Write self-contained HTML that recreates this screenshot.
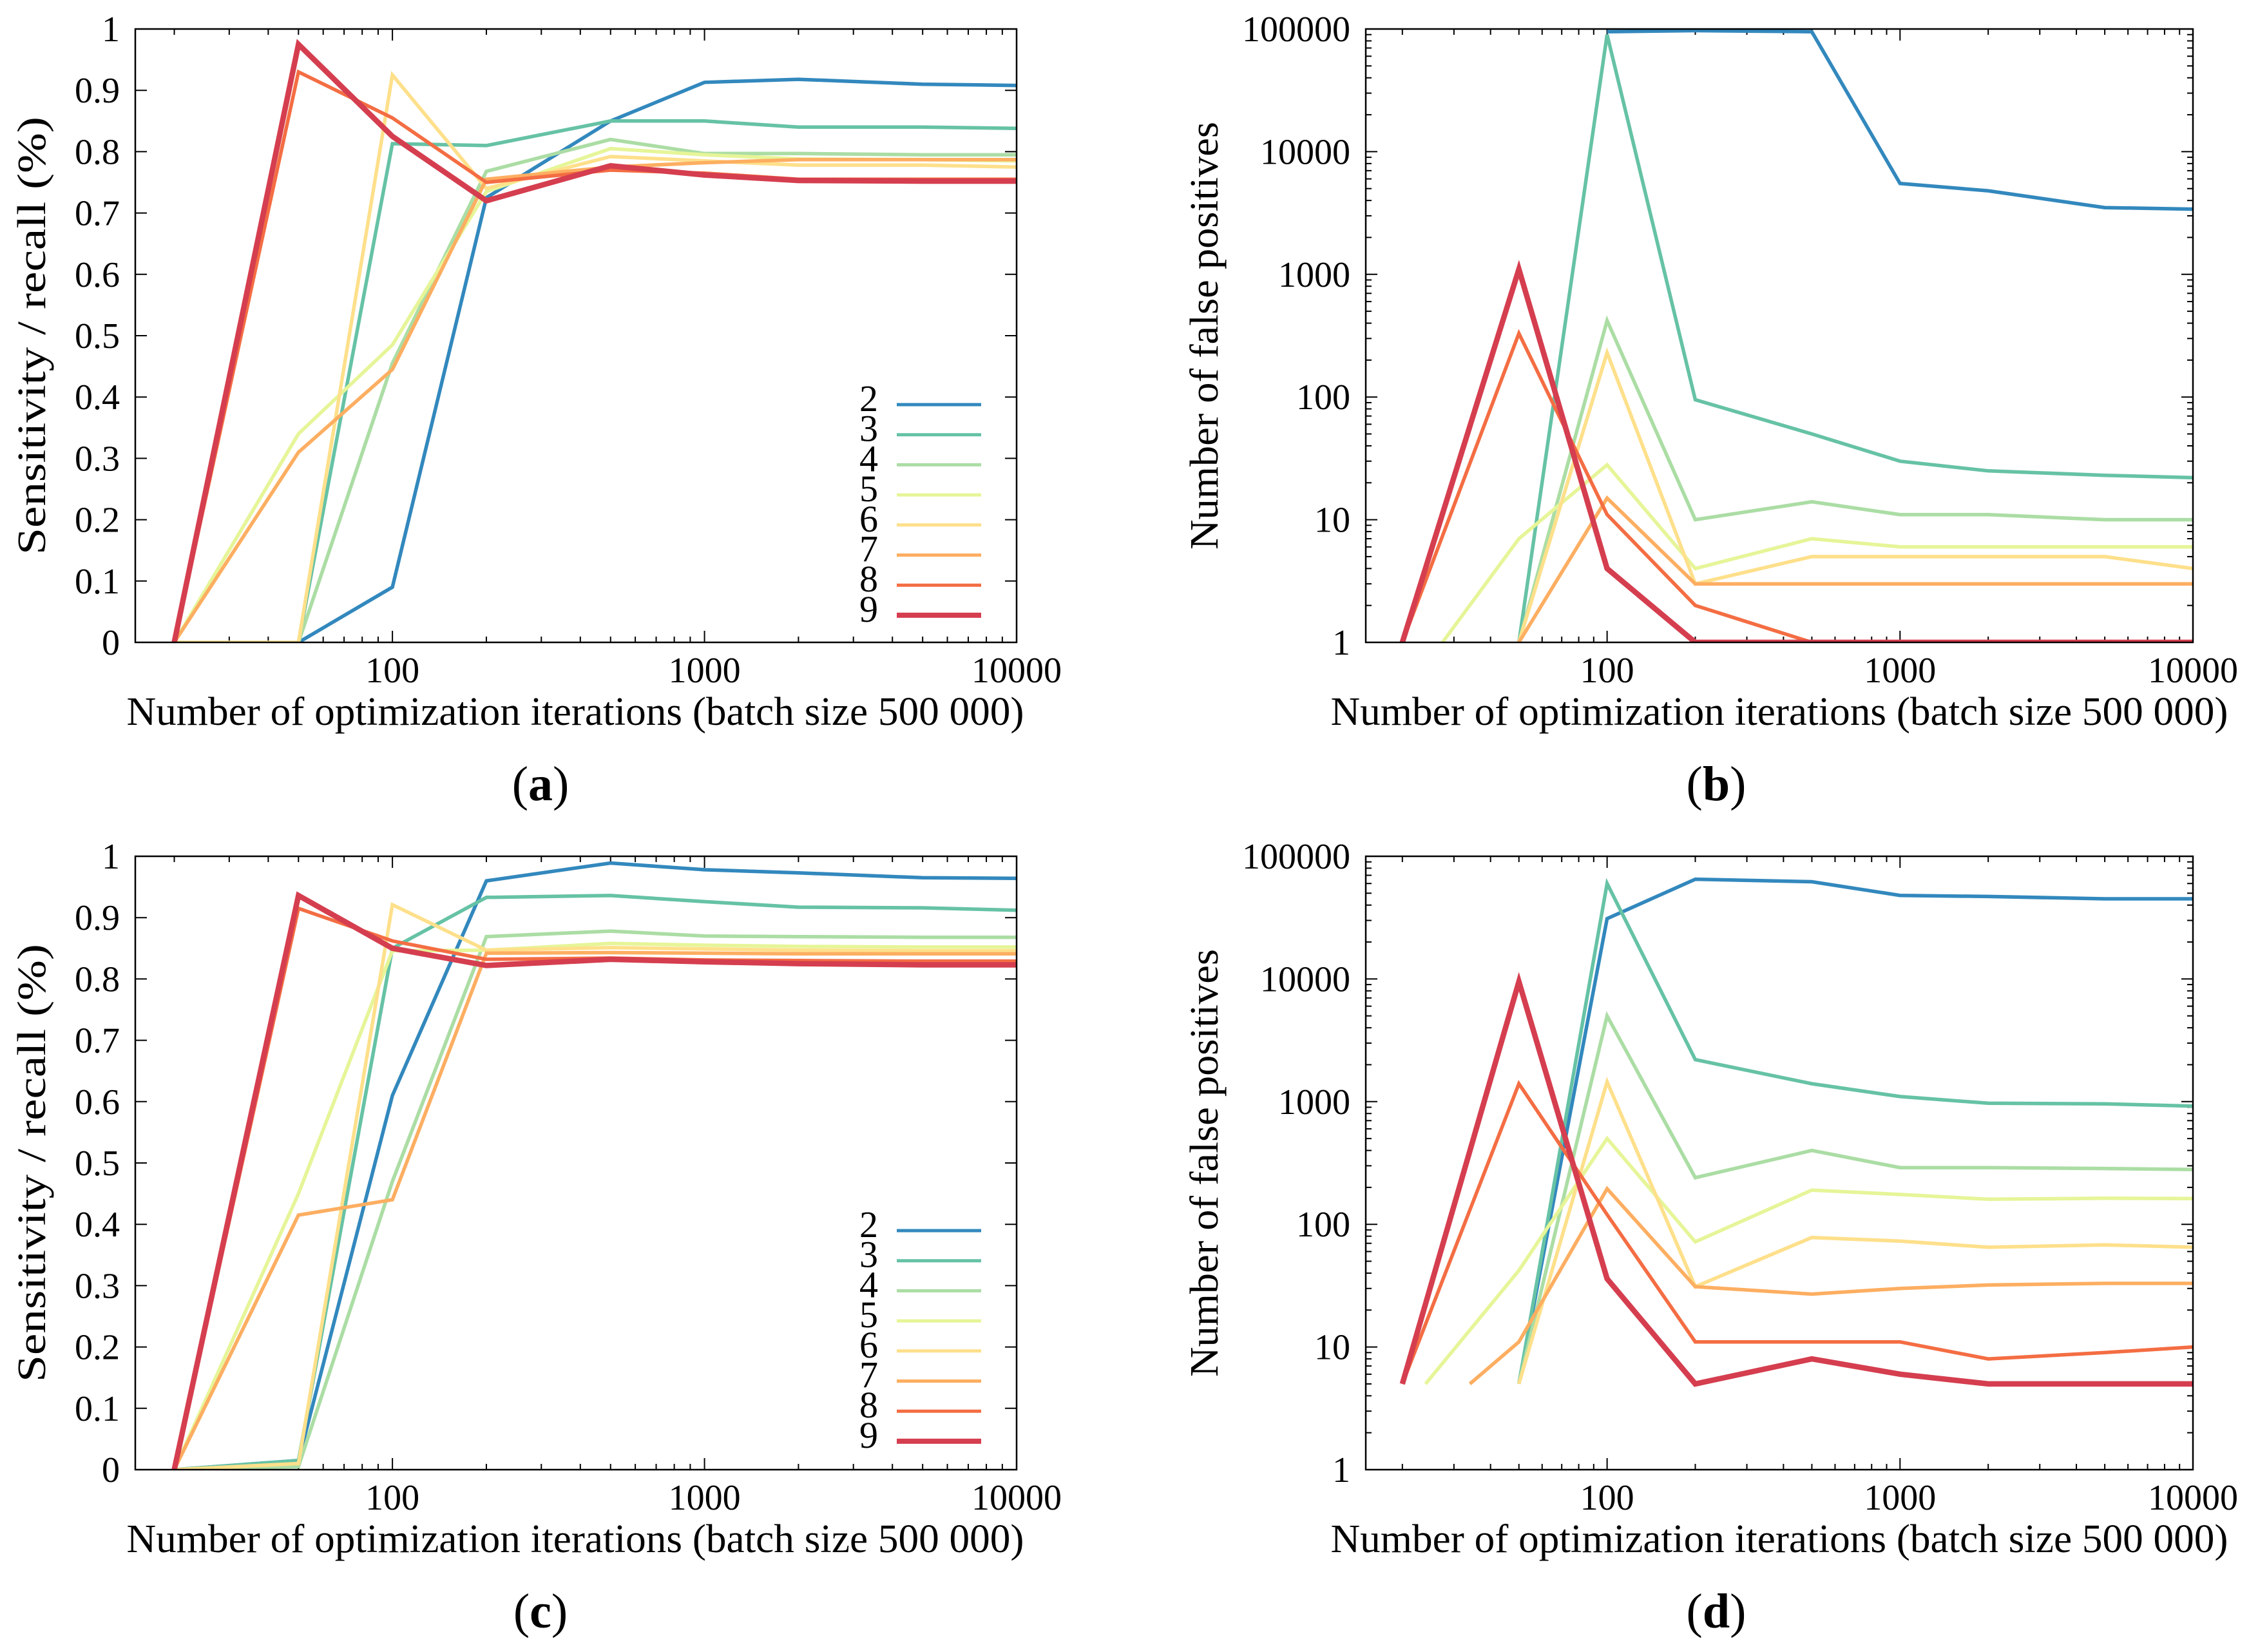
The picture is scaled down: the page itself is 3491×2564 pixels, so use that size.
<!DOCTYPE html>
<html><head><meta charset="utf-8"><style>
html,body{margin:0;padding:0;background:#fff;}
svg{display:block;font-family:"Liberation Serif",serif;}
</style></head><body>
<svg id="fig" width="3491" height="2564" viewBox="0 0 3491 2564" xmlns="http://www.w3.org/2000/svg"></svg>
<script>
// shared x categories (optimization iterations)
const xIter = [20, 50, 100, 200, 500, 1000, 2000, 5000, 10000];
const seriesLabels = ["2","3","4","5","6","7","8","9"];
const seriesColors = ["#3288bd","#66c2a5","#abdda4","#e6f598","#fee08b","#fdae61","#f46d43","#d53e4f"];
const xTickLabels = ["100","1000","10000"];
const xTickValues = [100,1000,10000];
const linTickLabels = ["0","0.1","0.2","0.3","0.4","0.5","0.6","0.7","0.8","0.9","1"];
const logTickLabels = ["1","10","100","1000","10000","100000"];

// panel (a) sensitivity
const a2 = [null,0,0.09,0.725,0.85,0.913,0.918,0.91,0.908];
const a3 = [null,0,0.813,0.81,0.85,0.85,0.84,0.84,0.838];
const a4 = [null,0,0.455,0.768,0.82,0.797,0.797,0.795,0.795];
const a5 = [0,0.34,0.485,0.735,0.805,0.795,0.788,0.787,0.785];
const a6 = [0,0,0.925,0.74,0.792,0.785,0.778,0.778,0.775];
const a7 = [0,0.31,0.445,0.755,0.775,0.782,0.787,0.787,0.787];
const a8 = [0,0.93,0.855,0.75,0.77,0.765,0.755,0.755,0.755];
const a9 = [0,0.975,0.825,0.72,0.777,0.762,0.753,0.752,0.752];
// panel (b) false positives
const b2 = [null,null,95000,97000,95000,5500,4800,3500,3400];
const b3 = [null,1,90000,95,50,30,25,23,22];
const b4 = [null,1,420,10,14,11,11,10,10];
const b5 = [0.65,7,28,4,7,6,6,6,6];
const b6 = [null,1,230,3,5,5,5,5,4];
const b7 = [null,1,15,3,3,3,3,3,3];
const b8 = [1,330,11,2,1,1,1,1,1];
const b9 = [1,1100,4,1,1,1,1,1,1];
// panel (c) sensitivity
const c2 = [0,0.015,0.61,0.96,0.989,0.978,0.973,0.965,0.964];
const c3 = [0,0.015,0.85,0.933,0.936,0.926,0.917,0.916,0.912];
const c4 = [0,0.005,0.47,0.869,0.878,0.87,0.869,0.868,0.868];
const c5 = [0,0.45,0.846,0.847,0.858,0.855,0.853,0.852,0.852];
const c6 = [0,0.01,0.921,0.847,0.851,0.849,0.847,0.846,0.846];
const c7 = [0,0.415,0.44,0.842,0.843,0.842,0.841,0.841,0.841];
const c8 = [0,0.915,0.862,0.832,0.834,0.831,0.83,0.829,0.829];
const c9 = [0,0.936,0.85,0.822,0.832,0.828,0.825,0.823,0.823];
// panel (d) false positives
const xIter5d = [24, 50, 100, 200, 500, 1000, 2000, 5000, 10000];
const xIter7d = [34, 50, 100, 200, 500, 1000, 2000, 5000, 10000];
const d2 = [null,5,31000,65000,62000,48000,47000,45000,45000];
const d3 = [null,5,60000,2200,1400,1100,970,960,920];
const d4 = [null,5,5000,240,400,290,290,285,280];
const d5 = [5,42,500,72,190,175,160,163,162];
const d6 = [null,5,1450,31,78,73,65,68,65];
const d7 = [5,11,195,31,27,30,32,33,33];
const d8 = [5,1400,120,11,11,11,8,9,10];
const d9 = [5,9500,36,5,8,6,5,5,5];

const NS="http://www.w3.org/2000/svg";
const svg=document.getElementById('fig');
function mk(tag,attrs,parent){const e=document.createElementNS(NS,tag);for(const k in attrs)e.setAttribute(k,attrs[k]);(parent||svg).appendChild(e);return e;}

function panel(cfg){
  const g=mk('g',{});
  
  
  const L=cfg.L,R=cfg.R,T=cfg.T,B=cfg.B;
  const lx0=Math.log10(15),lx1=4;
  const sx=v=>L+(Math.log10(v)-lx0)/(lx1-lx0)*(R-L);
  const sy=cfg.log? (v=>B-(Math.log10(v)-0)/5*(B-T)) : (v=>B-v*(B-T));
  const cp=mk('clipPath',{id:'clip'+cfg.id},g);
  mk('rect',{x:L,y:T,width:R-L,height:B-T},cp);
  const tk=mk('g',{stroke:'#000','stroke-width':2},g);
  
  
  for(let d=1;d<=4;d++){for(let m=1;m<10;m++){const v=m*Math.pow(10,d);if(v<15||v>10000)continue;const x=sx(v);const len=m===1?18:9;
    mk('line',{x1:x,y1:B,x2:x,y2:B-len},tk);mk('line',{x1:x,y1:T,x2:x,y2:T+len},tk);}}
  if(cfg.log){
    for(let d=0;d<=5;d++){for(let m=1;m<10;m++){const v=m*Math.pow(10,d);if(v>100000)continue;const y=sy(v);const len=m===1?18:9;
      mk('line',{x1:L,y1:y,x2:L+len,y2:y},tk);mk('line',{x1:R,y1:y,x2:R-len,y2:y},tk);}}
  } else {
    for(let i=0;i<=10;i++){const y=sy(i/10);mk('line',{x1:L,y1:y,x2:L+18,y2:y},tk);mk('line',{x1:R,y1:y,x2:R-18,y2:y},tk);}
  }
  const yl=cfg.log?logTickLabels:linTickLabels;
  yl.forEach((s,i)=>{const v=cfg.log?Math.pow(10,i):i/10;
    const t=mk('text',{x:L-24,y:sy(v)+19,'text-anchor':'end','font-size':56},g);t.textContent=s;
    });
  xTickLabels.forEach((s,i)=>{const t=mk('text',{x:sx(xTickValues[i]),y:B+62,'text-anchor':'middle','font-size':56},g);t.textContent=s;
    });
  const lg=mk('g',{'clip-path':'url(#clip'+cfg.id+')',fill:'none','stroke-linejoin':'miter'},g);
  cfg.series.forEach((vals,si)=>{
    const xs=(cfg.xs&&cfg.xs[si])||xIter;
    let d='',started=false;
    vals.forEach((v,i)=>{if(v===null){started=false;return;}d+=(started?'L':'M')+sx(xs[i]).toFixed(1)+' '+sy(v).toFixed(1)+' ';started=true;});
    const p=mk('path',{d:d,stroke:seriesColors[si],'stroke-width':si===7?8.5:5.5},lg);
    
    
  });
  const fr=mk('rect',{x:L,y:T,width:R-L,height:B-T,fill:'none',stroke:'#000','stroke-width':2.5},g);
  
  if(cfg.legend){
    const lgd=mk('g',{},g);
    
    seriesLabels.forEach((s,i)=>{const y=cfg.legendY+i*46.7;
      const t=mk('text',{x:R-215,y:y+10,'text-anchor':'end','font-size':58},lgd);t.textContent=s;
      
      const ln=mk('line',{x1:R-186,y1:y,x2:R-55,y2:y,stroke:seriesColors[i],'stroke-width':i===7?8:5},lgd);
      });
  }
  const xt=mk('text',{x:(cfg.titleCx),y:B+128,'text-anchor':'middle','font-size':62,textLength:1393,lengthAdjust:'spacingAndGlyphs'},g);
  xt.textContent='Number of optimization iterations (batch size 500 000)';
  
  const ytx=cfg.yTitleX, yty=(T+B)/2;
  const yt=mk('text',{x:ytx,y:yty,'text-anchor':'middle','font-size':62,textLength:cfg.log?664:680,lengthAdjust:'spacingAndGlyphs',transform:'rotate(-90 '+ytx+' '+yty+')'},g);
  yt.textContent=cfg.log?'Number of false positives':'Sensitivity / recall (%)';
  
  const cap=mk('text',{x:cfg.capCx,y:B+245,'text-anchor':'middle','font-size':76},g);
  cap.innerHTML='(<tspan font-weight="bold">'+cfg.id+'</tspan>)';
  
}
panel({id:'a',L:210,R:1578,T:45,B:997,log:false,series:[a2,a3,a4,a5,a6,a7,a8,a9],legend:true,legendY:628,titleCx:893,capCx:839,yTitleX:70});
panel({id:'b',L:2120,R:3404,T:45,B:997,log:true,series:[b2,b3,b4,b5,b6,b7,b8,b9],xs:[null,null,null,xIter5d],titleCx:2762,capCx:2664,yTitleX:1890});
panel({id:'c',L:210,R:1578,T:1329,B:2281,log:false,series:[c2,c3,c4,c5,c6,c7,c8,c9],legend:true,legendY:1910,titleCx:893,capCx:839,yTitleX:70});
panel({id:'d',L:2120,R:3404,T:1329,B:2281,log:true,series:[d2,d3,d4,d5,d6,d7,d8,d9],xs:[null,null,null,xIter5d,null,xIter7d],titleCx:2762,capCx:2664,yTitleX:1890});
</script>
</body></html>
